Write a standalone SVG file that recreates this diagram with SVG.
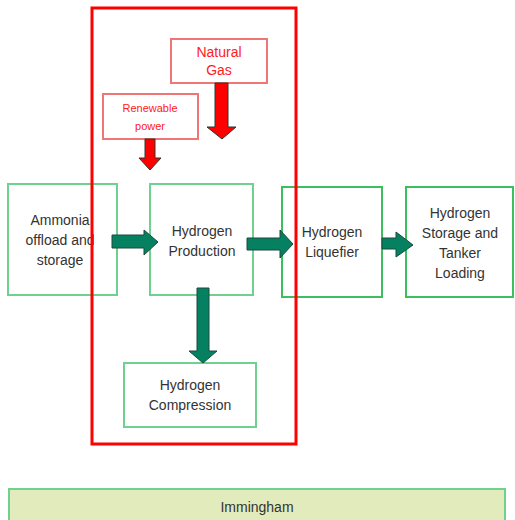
<svg xmlns="http://www.w3.org/2000/svg" width="515" height="520" viewBox="0 0 515 520">
<style>
.box{fill:#ffffff;stroke:#6fd08f;stroke-width:2}
.box2{fill:#ffffff;stroke:#3cbf5f;stroke-width:2}
.rbox{fill:#ffffff;stroke:#f07575;stroke-width:2}
.t{font-family:"Liberation Sans",Arial,sans-serif;font-size:14px;fill:#333333;text-anchor:middle}
.rt{font-family:"Liberation Sans",Arial,sans-serif;fill:#ff2020;text-anchor:middle}
.ga{fill:#058060;stroke:#1d4a3c;stroke-width:1}
.ra{fill:#ff0000;stroke:#2a3a30;stroke-width:1}
</style>
<rect width="515" height="520" fill="#ffffff"/>
<g id="immingham">
<rect x="9" y="489" width="496" height="40" fill="#e1ebbb" stroke="#6fd08f" stroke-width="2"/>
<text class="t" x="257" y="512">Immingham</text>
</g>
<g id="ammonia">
<rect class="box" x="8" y="184" width="109" height="111"/>
<text class="t" x="60" y="225">Ammonia</text>
<text class="t" x="60" y="245">offload and</text>
<text class="t" x="60" y="265">storage</text>
</g>
<g id="production">
<rect class="box" x="150" y="184" width="103" height="111"/>
<text class="t" x="202" y="236">Hydrogen</text>
<text class="t" x="202" y="256">Production</text>
</g>
<g id="liquefier">
<rect class="box2" x="282" y="187" width="100" height="110"/>
<text class="t" x="332" y="237">Hydrogen</text>
<text class="t" x="332" y="257">Liquefier</text>
</g>
<g id="storage">
<rect class="box2" x="406" y="187" width="107" height="110"/>
<text class="t" x="460" y="218">Hydrogen</text>
<text class="t" x="460" y="238">Storage and</text>
<text class="t" x="460" y="258">Tanker</text>
<text class="t" x="460" y="278">Loading</text>
</g>
<g id="compression">
<rect class="box" x="124" y="363" width="132" height="64"/>
<text class="t" x="190" y="390">Hydrogen</text>
<text class="t" x="190" y="410">Compression</text>
</g>
<g id="natural-gas">
<rect class="rbox" x="171" y="39" width="96" height="44"/>
<text class="rt" x="219" y="57" font-size="14">Natural</text>
<text class="rt" x="219" y="75" font-size="14">Gas</text>
</g>
<g id="renewable">
<rect class="rbox" x="103" y="94" width="95" height="45"/>
<text class="rt" x="150" y="112" font-size="11">Renewable</text>
<text class="rt" x="150" y="130" font-size="11">power</text>
</g>
<g id="connectors">
<polygon class="ga" points="112,235 144,235 144,230 158,242 144,255 144,248 112,248"/>
<polygon class="ga" points="247,238 280,238 280,230 293,244 280,258 280,250 247,250"/>
<polygon class="ga" points="382,238 396,238 396,232 413,245 396,257 396,249 382,249"/>
<polygon class="ga" points="197,288 209,288 209,351 217,351 203,363 189,351 197,351"/>
<polygon class="ra" points="215,83 228,83 228,127 236,127 222,139 207,127 215,127"/>
<polygon class="ra" points="145,139 155,139 155,158 161,158 150,170 139,158 145,158"/>
</g>
<g id="frame">
<rect x="92" y="8" width="204" height="436" fill="none" stroke="#ff0000" stroke-width="3"/>
</g>
</svg>
